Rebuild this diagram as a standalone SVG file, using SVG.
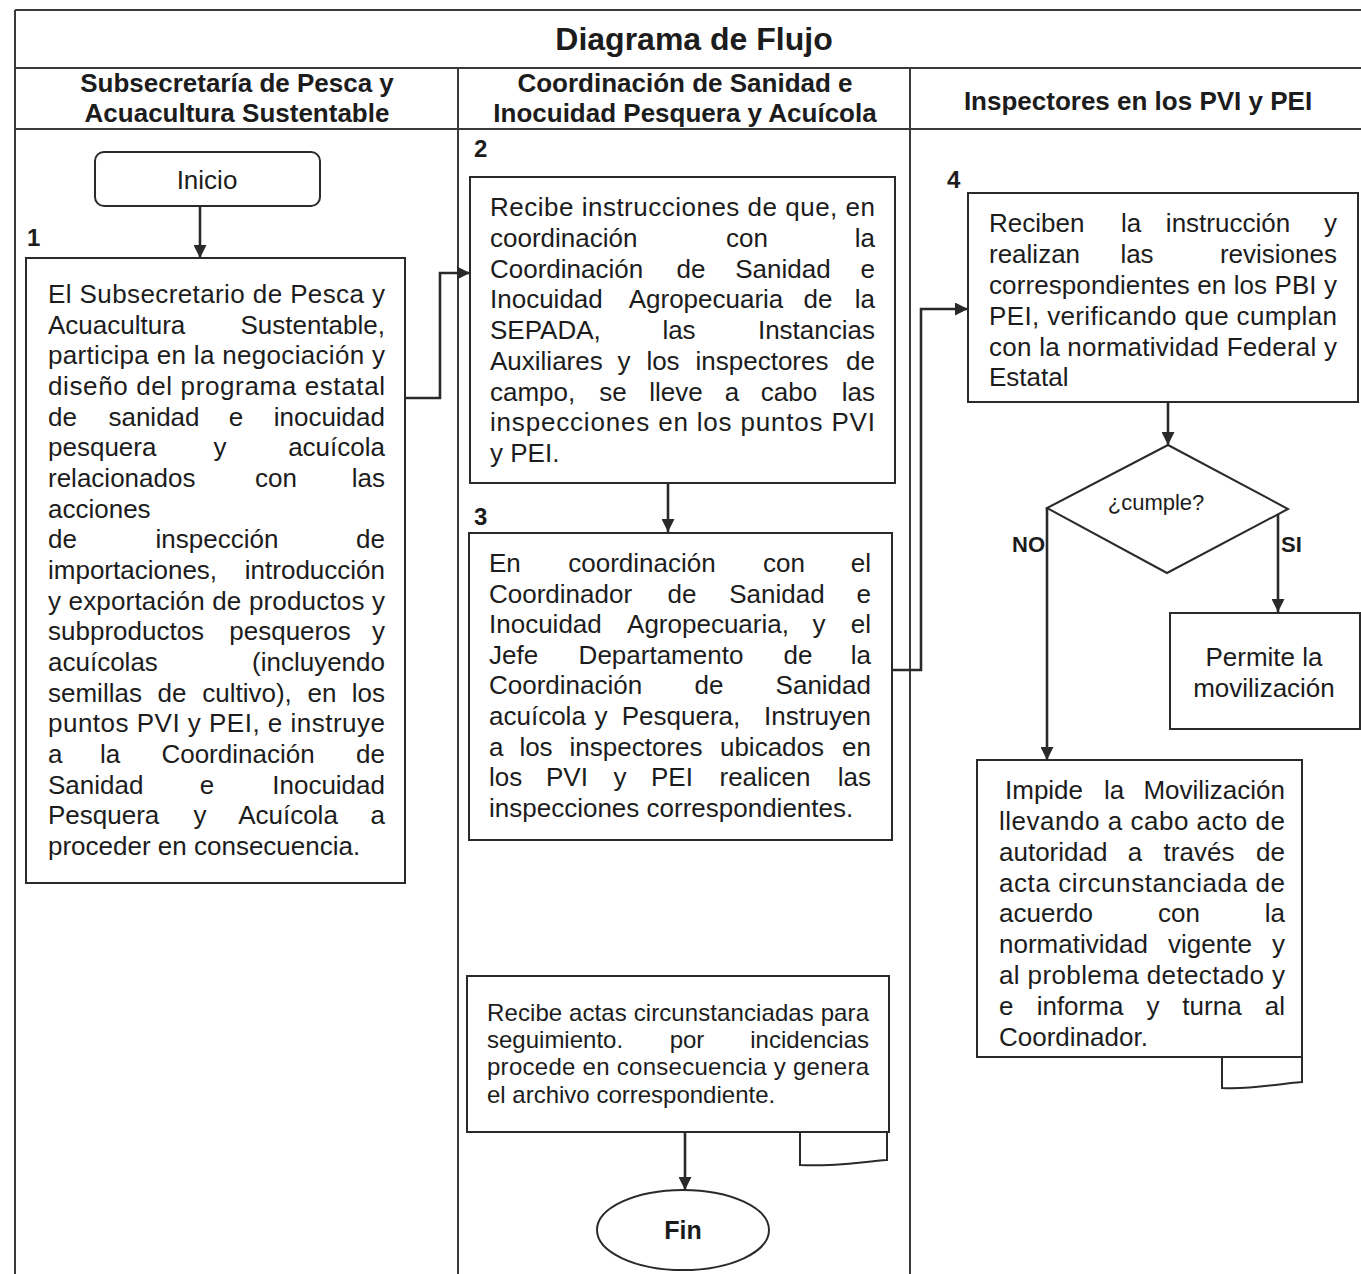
<svg xmlns="http://www.w3.org/2000/svg" width="1361" height="1274" viewBox="0 0 1361 1274">
<style>
.bx{fill:#fff;stroke:#2a2a2a;stroke-width:2}
.fr{fill:none;stroke:#3a3a3a;stroke-width:2}
.cn{fill:none;stroke:#2a2a2a;stroke-width:2.6}
text{font-family:"Liberation Sans",Arial,sans-serif;fill:#1c1c1c}
.t{font-size:26px}
.s{font-size:24px}
.h{font-size:26px;font-weight:bold;text-anchor:middle}
.n{font-size:24px;font-weight:bold}
.e{text-anchor:end}
.m{text-anchor:middle}
</style>
<defs>
<marker id="ar" viewBox="0 0 12 12" refX="12" refY="6" markerWidth="13" markerHeight="13" markerUnits="userSpaceOnUse" orient="auto">
<path d="M0,0 L12,6 L0,12 z" fill="#2a2a2a"/>
</marker>
</defs>
<rect width="1361" height="1274" fill="#fff"/>
<g id="frame">
<path class="fr" d="M15,10 H1361 M15,10 V1274 M15,68 H1361 M15,129 H1361 M458,68 V1274 M910,68 V1274"/>
<text x="694" y="50" style="font-size:32px;font-weight:bold;text-anchor:middle">Diagrama de Flujo</text>
<text class="h" x="237" y="92">Subsecretaría de Pesca y</text>
<text class="h" x="237" y="122">Acuacultura Sustentable</text>
<text class="h" x="685" y="92">Coordinación de Sanidad e</text>
<text class="h" x="685" y="122">Inocuidad Pesquera y Acuícola</text>
<text class="h" x="1138" y="110">Inspectores en los PVI y PEI</text>
</g>
<g id="connectors">
<path class="cn" d="M200,206 V258" marker-end="url(#ar)"/>
<path class="cn" d="M405,398 H440 V273 H470" marker-end="url(#ar)"/>
<path class="cn" d="M668,483 V532" marker-end="url(#ar)"/>
<path class="cn" d="M892,670 H921 V309 H968" marker-end="url(#ar)"/>
<path class="cn" d="M1168,402 V445" marker-end="url(#ar)"/>
<path class="cn" d="M1047,508 V760" marker-end="url(#ar)"/>
<path class="cn" d="M1278,511 V612" marker-end="url(#ar)"/>
<path class="cn" d="M685,1132 V1190" marker-end="url(#ar)"/>
<text class="n" x="1045" y="552" text-anchor="end" style="font-size:22px">NO</text>
<text class="n" x="1281" y="552" style="font-size:22px">SI</text>
</g>
<g id="inicio">
<rect class="bx" x="95" y="152" width="225" height="54" rx="9"/>
<text class="t m" x="207" y="189">Inicio</text>
</g>
<g id="paso1">
<text class="n" x="27" y="246">1</text>
<rect class="bx" x="26" y="258" width="379" height="625"/>
<text class="t" x="48" y="303" textLength="337" lengthAdjust="spacing">El Subsecretario de Pesca y</text>
<text class="t" x="48" y="334">Acuacultura</text><text class="t e" x="385" y="334">Sustentable,</text>
<text class="t" x="48" y="364" textLength="337" lengthAdjust="spacing">participa en la negociación y</text>
<text class="t" x="48" y="395" textLength="337" lengthAdjust="spacing">diseño del programa estatal</text>
<text class="t" x="48" y="426">de</text><text class="t m" x="154" y="426">sanidad</text><text class="t m" x="236" y="426">e</text><text class="t e" x="385" y="426">inocuidad</text>
<text class="t" x="48" y="456">pesquera</text><text class="t m" x="220" y="456">y</text><text class="t e" x="385" y="456">acuícola</text>
<text class="t" x="48" y="487">relacionados</text><text class="t m" x="276" y="487">con</text><text class="t e" x="385" y="487">las</text>
<text class="t" x="48" y="518">acciones</text>
<text class="t" x="48" y="548">de</text><text class="t m" x="217" y="548">inspección</text><text class="t e" x="385" y="548">de</text>
<text class="t" x="48" y="579">importaciones,</text><text class="t e" x="385" y="579">introducción</text>
<text class="t" x="48" y="610" textLength="337" lengthAdjust="spacing">y exportación de productos y</text>
<text class="t" x="48" y="640">subproductos</text><text class="t m" x="290" y="640">pesqueros</text><text class="t e" x="385" y="640">y</text>
<text class="t" x="48" y="671">acuícolas</text><text class="t e" x="385" y="671">(incluyendo</text>
<text class="t" x="48" y="702">semillas</text><text class="t m" x="172" y="702">de</text><text class="t m" x="247" y="702">cultivo),</text><text class="t m" x="322" y="702">en</text><text class="t e" x="385" y="702">los</text>
<text class="t" x="48" y="732" textLength="337" lengthAdjust="spacing">puntos PVI y PEI, e instruye</text>
<text class="t" x="48" y="763">a</text><text class="t m" x="110" y="763">la</text><text class="t m" x="238" y="763">Coordinación</text><text class="t e" x="385" y="763">de</text>
<text class="t" x="48" y="794">Sanidad</text><text class="t m" x="207" y="794">e</text><text class="t e" x="385" y="794">Inocuidad</text>
<text class="t" x="48" y="824">Pesquera</text><text class="t m" x="200" y="824">y</text><text class="t m" x="288" y="824">Acuícola</text><text class="t e" x="385" y="824">a</text>
<text class="t" x="48" y="855">proceder en consecuencia.</text>
</g>
<g id="paso2">
<text class="n" x="474" y="157">2</text>
<rect class="bx" x="470" y="177" width="425" height="306"/>
<text class="t" x="490" y="216" textLength="385" lengthAdjust="spacing">Recibe instrucciones de que, en</text>
<text class="t" x="490" y="247">coordinación</text><text class="t m" x="747" y="247">con</text><text class="t e" x="875" y="247">la</text>
<text class="t" x="490" y="278">Coordinación</text><text class="t m" x="691" y="278">de</text><text class="t m" x="783" y="278">Sanidad</text><text class="t e" x="875" y="278">e</text>
<text class="t" x="490" y="308">Inocuidad</text><text class="t m" x="706" y="308">Agropecuaria</text><text class="t m" x="818" y="308">de</text><text class="t e" x="875" y="308">la</text>
<text class="t" x="490" y="339">SEPADA,</text><text class="t m" x="679" y="339">las</text><text class="t e" x="875" y="339">Instancias</text>
<text class="t" x="490" y="370">Auxiliares</text><text class="t m" x="624" y="370">y</text><text class="t m" x="663" y="370">los</text><text class="t m" x="762" y="370">inspectores</text><text class="t e" x="875" y="370">de</text>
<text class="t" x="490" y="401">campo,</text><text class="t m" x="613" y="401">se</text><text class="t m" x="676" y="401">lleve</text><text class="t m" x="732" y="401">a</text><text class="t m" x="789" y="401">cabo</text><text class="t e" x="875" y="401">las</text>
<text class="t" x="490" y="431" textLength="385" lengthAdjust="spacing">inspecciones en los puntos PVI</text>
<text class="t" x="490" y="462">y PEI.</text>
</g>
<g id="paso3">
<text class="n" x="474" y="525">3</text>
<rect class="bx" x="469" y="533" width="423" height="307"/>
<text class="t" x="489" y="572">En</text><text class="t m" x="642" y="572">coordinación</text><text class="t m" x="784" y="572">con</text><text class="t e" x="871" y="572">el</text>
<text class="t" x="489" y="603">Coordinador</text><text class="t m" x="682" y="603">de</text><text class="t m" x="777" y="603">Sanidad</text><text class="t e" x="871" y="603">e</text>
<text class="t" x="489" y="633">Inocuidad</text><text class="t m" x="708" y="633">Agropecuaria,</text><text class="t m" x="819" y="633">y</text><text class="t e" x="871" y="633">el</text>
<text class="t" x="489" y="664">Jefe</text><text class="t m" x="661" y="664">Departamento</text><text class="t m" x="798" y="664">de</text><text class="t e" x="871" y="664">la</text>
<text class="t" x="489" y="694">Coordinación</text><text class="t m" x="709" y="694">de</text><text class="t e" x="871" y="694">Sanidad</text>
<text class="t" x="489" y="725">acuícola</text><text class="t m" x="601" y="725">y</text><text class="t m" x="681" y="725">Pesquera,</text><text class="t e" x="871" y="725">Instruyen</text>
<text class="t" x="489" y="756">a</text><text class="t m" x="536" y="756">los</text><text class="t m" x="636" y="756">inspectores</text><text class="t m" x="772" y="756">ubicados</text><text class="t e" x="871" y="756">en</text>
<text class="t" x="489" y="786">los</text><text class="t m" x="567" y="786">PVI</text><text class="t m" x="620" y="786">y</text><text class="t m" x="672" y="786">PEI</text><text class="t m" x="765" y="786">realicen</text><text class="t e" x="871" y="786">las</text>
<text class="t" x="489" y="817">inspecciones correspondientes.</text>
</g>
<g id="paso4">
<text class="n" x="947" y="188">4</text>
<rect class="bx" x="968" y="193" width="390" height="209"/>
<text class="t" x="989" y="232">Reciben</text><text class="t m" x="1131" y="232">la</text><text class="t m" x="1228" y="232">instrucción</text><text class="t e" x="1337" y="232">y</text>
<text class="t" x="989" y="263">realizan</text><text class="t m" x="1137" y="263">las</text><text class="t e" x="1337" y="263">revisiones</text>
<text class="t" x="989" y="294" textLength="348" lengthAdjust="spacing">correspondientes en los PBI y</text>
<text class="t" x="989" y="325" textLength="348" lengthAdjust="spacing">PEI, verificando que cumplan</text>
<text class="t" x="989" y="356" textLength="348" lengthAdjust="spacing">con la normatividad Federal y</text>
<text class="t" x="989" y="386">Estatal</text>
</g>
<g id="decision">
<path class="bx" d="M1168,445 L1288,509 L1167,573 L1047,508 Z"/>
<text class="m" x="1156" y="510" style="font-size:22px">¿cumple?</text>
</g>
<g id="permite">
<rect class="bx" x="1170" y="613" width="190" height="116"/>
<text class="t m" x="1264" y="666">Permite la</text>
<text class="t m" x="1264" y="697">movilización</text>
</g>
<g id="impide">
<path class="bx" d="M1222,1057 V1088 C1250,1090 1275,1084 1302,1082 V1057"/>
<rect class="bx" x="977" y="760" width="325" height="297"/>
<text class="t" x="1005" y="799">Impide</text><text class="t m" x="1114" y="799">la</text><text class="t e" x="1285" y="799">Movilización</text>
<text class="t" x="999" y="830" textLength="286" lengthAdjust="spacing">llevando a cabo acto de</text>
<text class="t" x="999" y="861">autoridad</text><text class="t m" x="1135" y="861">a</text><text class="t m" x="1199" y="861">través</text><text class="t e" x="1285" y="861">de</text>
<text class="t" x="999" y="892" textLength="286" lengthAdjust="spacing">acta circunstanciada de</text>
<text class="t" x="999" y="922">acuerdo</text><text class="t m" x="1179" y="922">con</text><text class="t e" x="1285" y="922">la</text>
<text class="t" x="999" y="953">normatividad</text><text class="t m" x="1210" y="953">vigente</text><text class="t e" x="1285" y="953">y</text>
<text class="t" x="999" y="984" textLength="286" lengthAdjust="spacing">al problema detectado y</text>
<text class="t" x="999" y="1015">e</text><text class="t m" x="1080" y="1015">informa</text><text class="t m" x="1153" y="1015">y</text><text class="t m" x="1212" y="1015">turna</text><text class="t e" x="1285" y="1015">al</text>
<text class="t" x="999" y="1046">Coordinador.</text>
</g>
<g id="recibe">
<path class="bx" d="M800,1132 V1165 C830,1167 860,1162 887,1160 V1132"/>
<rect class="bx" x="467" y="976" width="422" height="156"/>
<text class="s" x="487" y="1021" textLength="382" lengthAdjust="spacing">Recibe actas circunstanciadas para</text>
<text class="s" x="487" y="1048">seguimiento.</text><text class="s m" x="687" y="1048">por</text><text class="s e" x="869" y="1048">incidencias</text>
<text class="s" x="487" y="1075" textLength="382" lengthAdjust="spacing">procede en consecuencia y genera</text>
<text class="s" x="487" y="1103">el archivo correspondiente.</text>
</g>
<g id="fin">
<ellipse class="bx" cx="683" cy="1230" rx="86" ry="40"/>
<text class="m" x="683" y="1239" style="font-size:25px;font-weight:bold">Fin</text>
</g>
</svg>
